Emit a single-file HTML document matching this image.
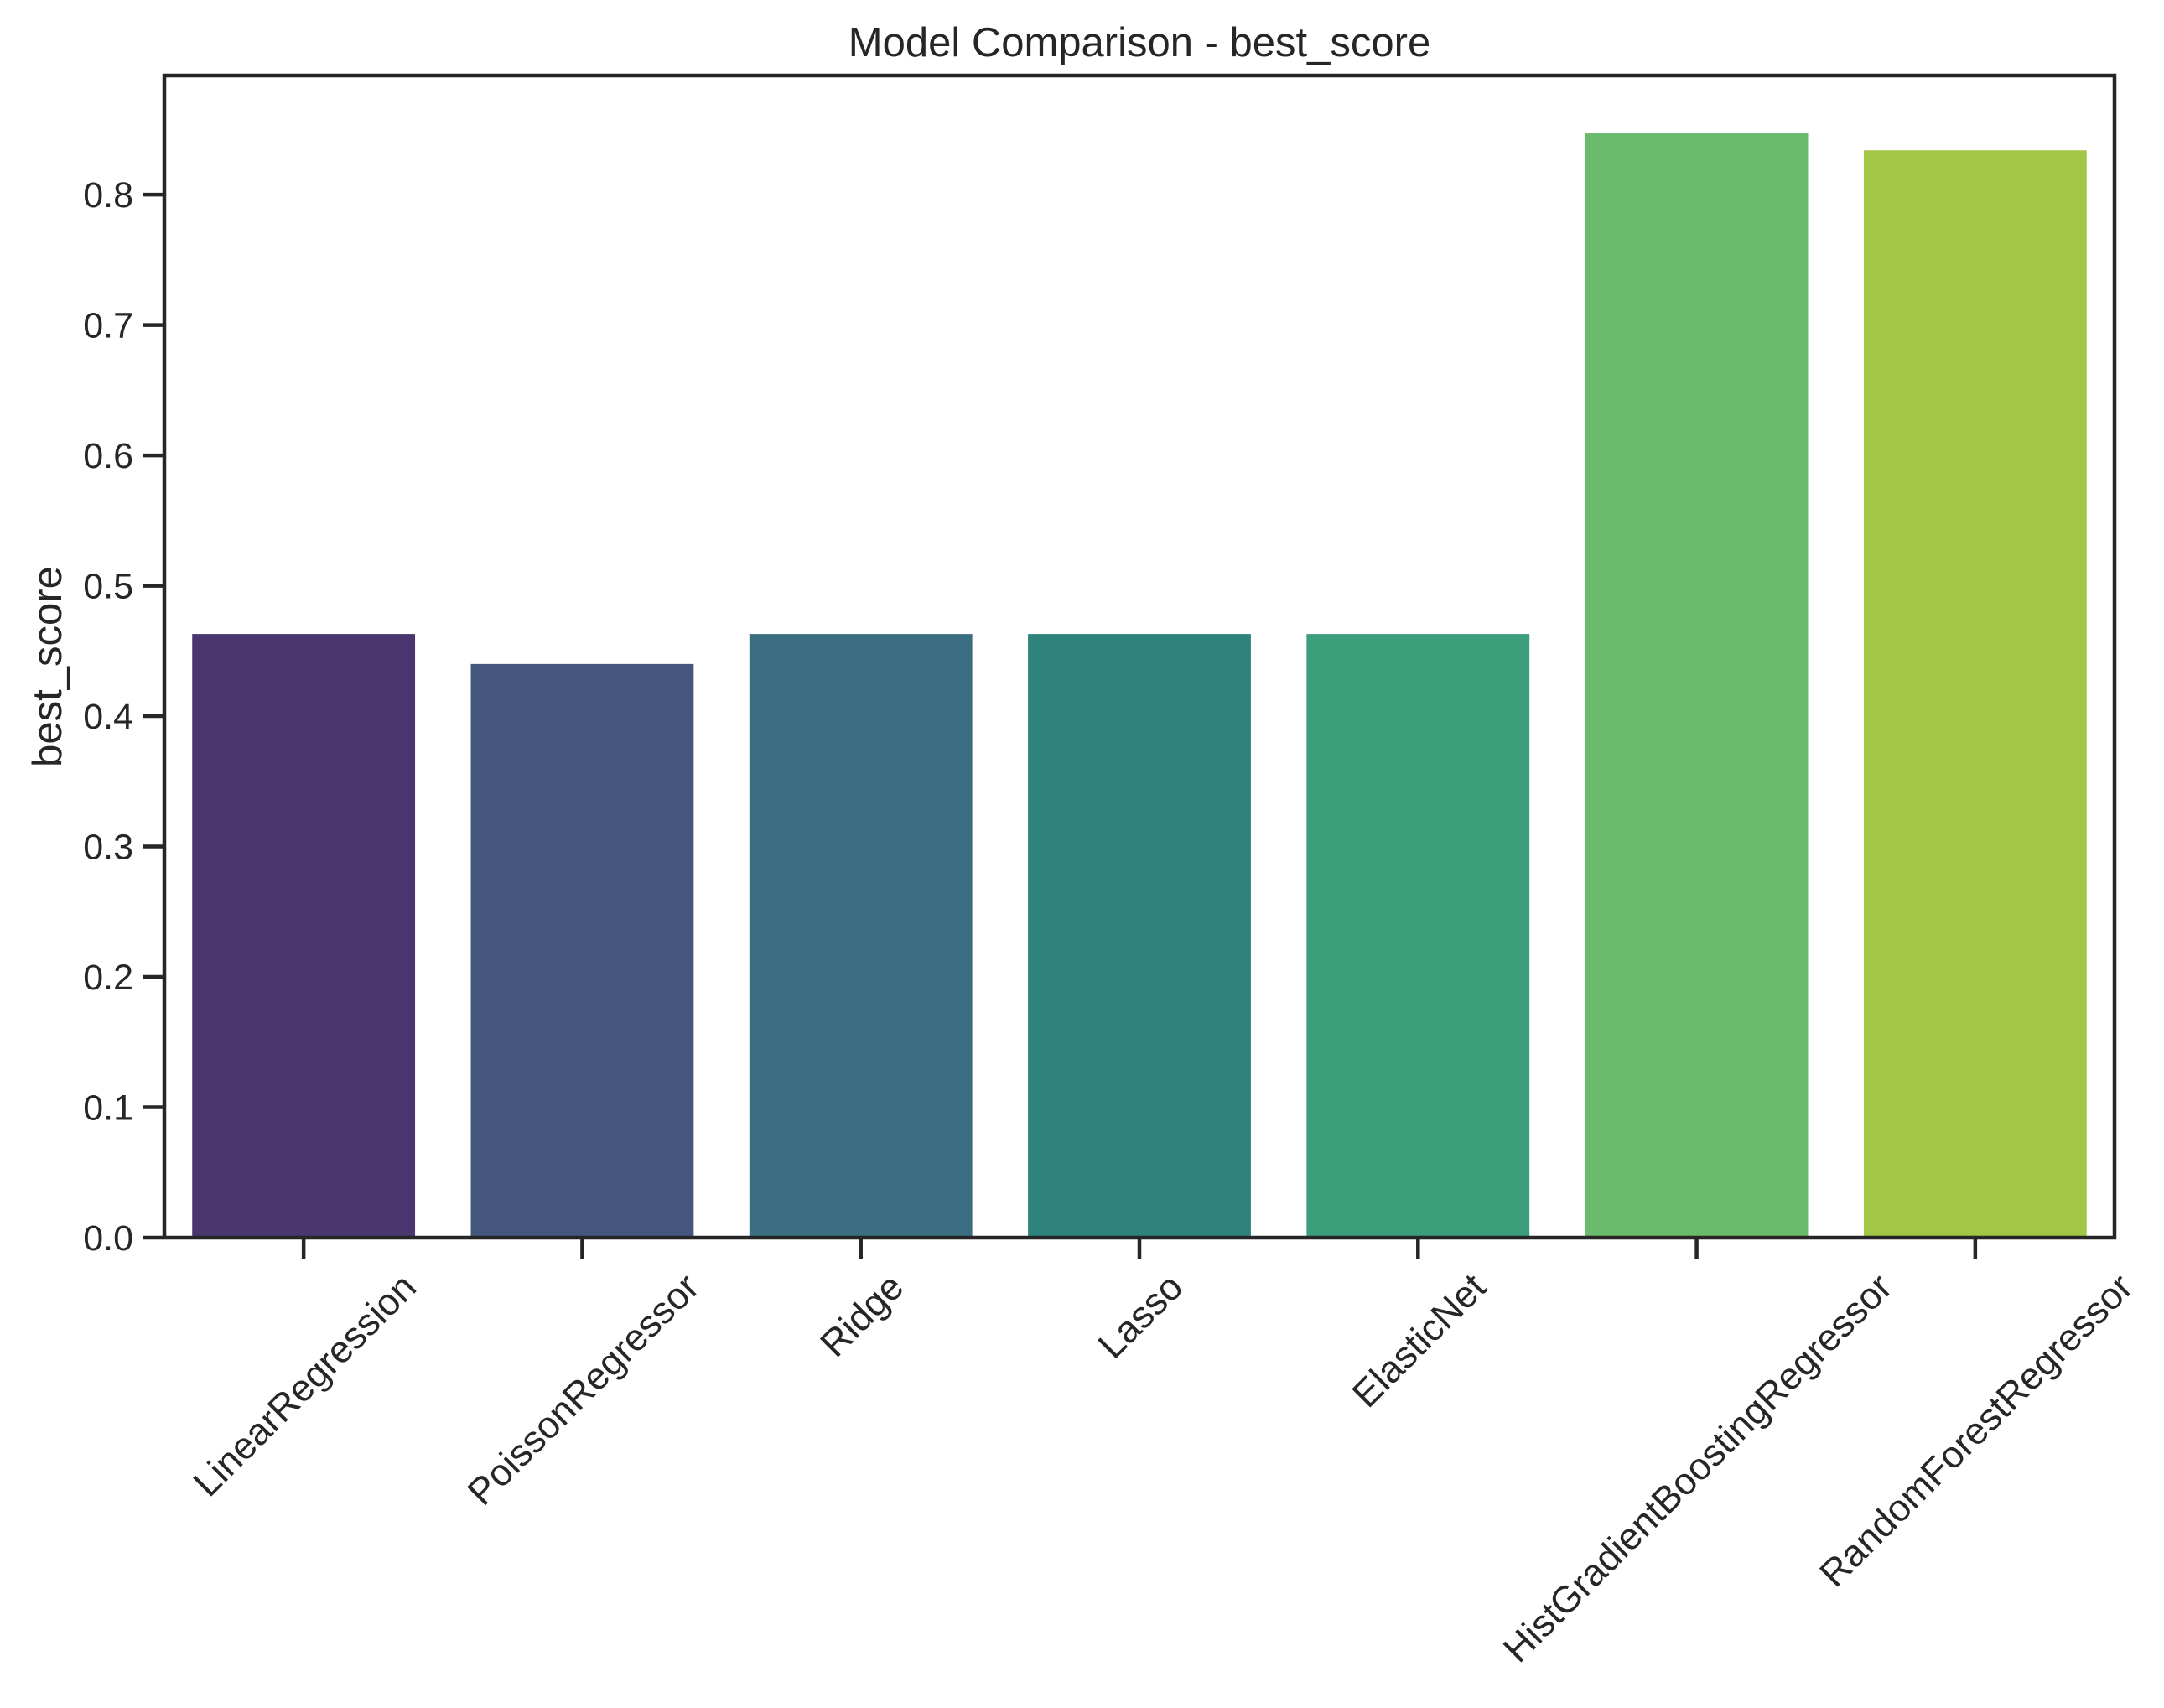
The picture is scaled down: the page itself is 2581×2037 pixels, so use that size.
<!DOCTYPE html>
<html><head><meta charset="utf-8"><style>
html,body{margin:0;padding:0;background:#fff;}
svg text{font-family:"Liberation Sans",Arial,sans-serif;fill:#262626;}
</style></head><body>
<svg id="chart" width="2581" height="2032" xmlns="http://www.w3.org/2000/svg">
<rect width="2581" height="2032" fill="#fff"/>
<g id="bars"></g><g id="xaxis"></g><g id="yaxis"></g>
<rect x="196" y="90" width="2326" height="1386" fill="none" stroke="#262626" stroke-width="4.5"/>
<text x="1359" y="67" font-size="49" text-anchor="middle">Model Comparison - best_score</text>
<text x="0" y="0" font-size="49" text-anchor="middle" transform="translate(73,795) rotate(-90)">best_score</text>
</svg>
<script>
const categories=["LinearRegression","PoissonRegressor","Ridge","Lasso","ElasticNet","HistGradientBoostingRegressor","RandomForestRegressor"];
const values=[0.463,0.440,0.463,0.463,0.463,0.847,0.834];
const colors=["#4a366e","#46577f","#3b6e80","#2e837c","#3c9f7c","#6bbb6c","#a3c646"];
const yTicks=[0,0.1,0.2,0.3,0.4,0.5,0.6,0.7,0.8];
const L=196,R=2522,T=90,B=1476,yMax=0.8914;
const NS="http://www.w3.org/2000/svg";
const slot=(R-L)/categories.length;
const xC=i=>L+slot*(i+0.5);
const yS=v=>B-(v/yMax)*(B-T);
const bars=document.getElementById('bars'),xa=document.getElementById('xaxis'),ya=document.getElementById('yaxis');
function mk(tag,attrs,parent){const e=document.createElementNS(NS,tag);for(const k in attrs)e.setAttribute(k,attrs[k]);parent.appendChild(e);return e;}
values.forEach((v,i)=>{
  const r=mk('rect',{x:xC(i)-slot*0.4,y:yS(v),width:slot*0.8,height:B-yS(v),fill:colors[i]},bars);
  
  
  const t=mk('line',{x1:xC(i),x2:xC(i),y1:B,y2:B+25,stroke:'#262626','stroke-width':4.5},xa);
  
  
  const lb=mk('text',{'font-size':45,'text-anchor':'middle'},xa);
  lb.textContent=categories[i];
  
  
  const w=lb.getComputedTextLength();
  const h=45*0.75;
  const half=(w+h)*0.7071/2;
  const cy=B+38+half;
  lb.setAttribute('transform','translate('+xC(i)+','+cy+') rotate(-45)');
  lb.setAttribute('y',h/2);
});
yTicks.forEach(v=>{
  const t=mk('line',{x1:L-25,x2:L,y1:yS(v),y2:yS(v),stroke:'#262626','stroke-width':4.5},ya);
  
  
  const lb=mk('text',{x:L-37,y:yS(v)+15,'font-size':43,'text-anchor':'end'},ya);
  lb.textContent=v.toFixed(1);
  
  
});
</script>
</body></html>
